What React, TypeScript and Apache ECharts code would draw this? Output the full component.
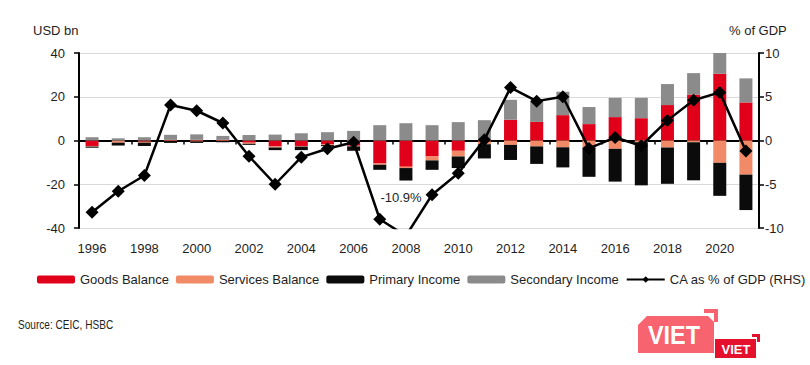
import React, { useEffect, useRef } from "react";
import * as echarts from "echarts";

const years = ["1996","1997","1998","1999","2000","2001","2002","2003","2004","2005","2006","2007","2008","2009","2010","2011","2012","2013","2014","2015","2016","2017","2018","2019","2020","2021"];
const goodsBalance = [-2.5, 0, -0.5, 0.3, 0.3, 0.3, -1, -2.7, -2.5, -1.8, -2.4, -10.5, -12, -7.3, -4.7, -0.5, 9.5, 8.5, 11.6, 7.5, 10.7, 10.2, 16.2, 21.0, 30.5, 17.4];
const servicesBalance = [-0.3, -1, -0.5, -0.3, -0.5, -0.3, -0.5, -0.5, -0.3, -0.3, -0.3, -0.6, -0.6, -1.8, -2.6, -1.2, -2, -2.7, -3.1, -3.2, -3.8, -0.8, -3.2, -0.8, -10.2, -15.6];
const primaryIncome = [-0.5, -1.3, -1.5, -0.8, -0.6, -0.5, -0.5, -1.2, -1.6, -0.5, -2, -2.3, -5.7, -4.3, -5.3, -6.5, -6.9, -8, -9.2, -13.4, -15, -19.7, -16.6, -17.4, -15.1, -16.2];
const secondaryIncome = [1.5, 1, 1.5, 2.3, 2.5, 1.8, 2.5, 2.7, 3.3, 3.8, 4.4, 7.0, 7.9, 7.0, 8.4, 9.3, 9.1, 9.2, 10.7, 7.8, 8.8, 9.3, 9.6, 9.8, 9.8, 11.0];
const caPctGdp = [-8.2, -5.8, -4.0, 4.05, 3.4, 2.0, -1.8, -5.0, -1.9, -0.95, -0.2, -9.0, -10.9, -6.2, -3.75, 0.1, 6.05, 4.5, 5.0, -0.9, 0.35, -0.6, 2.3, 4.6, 5.5, -1.2];
const leftTicks = { min: -40, max: 40, interval: 20 };
const rightTicks = { min: -10, max: 10, interval: 5 };

const FONT = "'Liberation Sans', Arial, sans-serif";
const TXT = "#1e1e1e";

export default function App() {
  const ref = useRef<HTMLDivElement>(null);
  useEffect(() => {
    document.body.style.margin = "0";
    const chart = echarts.init(ref.current!, null, { renderer: "svg" });
    const barBase = { type: "bar", stack: "total", barWidth: 13, xAxisIndex: 0, yAxisIndex: 0 };
    chart.setOption({
      animation: false,
      textStyle: { fontFamily: FONT },
      grid: { left: 79, right: 51, top: 53, bottom: 137 },
      legend: {
        left: 37,
        top: 273,
        padding: 0,
        itemWidth: 38,
        itemHeight: 8,
        itemGap: 7,
        textStyle: { fontSize: 13, color: TXT, fontFamily: FONT },
        data: ["Goods Balance", "Services Balance", "Primary Income", "Secondary Income", "CA as % of GDP (RHS)"],
      },
      xAxis: [
        {
          type: "category",
          data: years,
          position: "bottom",
          boundaryGap: true,
          axisLine: { show: false, onZero: false },
          axisTick: { show: false },
          axisLabel: { interval: 1, margin: 14, fontSize: 13, color: TXT },
        },
        {
          type: "category",
          data: years,
          position: "bottom",
          boundaryGap: true,
          axisLine: { show: true, onZero: true, onZeroAxisIndex: 0, lineStyle: { color: "#000", width: 2 } },
          axisTick: { show: true, interval: 1, length: 4, lineStyle: { color: "#000", width: 1.5 } },
          axisLabel: { show: false },
        },
      ],
      yAxis: [
        {
          type: "value",
          position: "left",
          ...leftTicks,
          axisLine: { show: true, lineStyle: { color: "#000", width: 2 } },
          axisTick: { show: true, length: 5, lineStyle: { color: "#000", width: 1.5 } },
          axisLabel: { fontSize: 13, color: TXT, margin: 14 },
          splitLine: { show: true, lineStyle: { color: "#d9d9d9", width: 1 } },
        },
        {
          type: "value",
          position: "right",
          ...rightTicks,
          axisLine: { show: true, lineStyle: { color: "#000", width: 2 } },
          axisTick: { show: true, length: 5, lineStyle: { color: "#000", width: 1.5 } },
          axisLabel: { fontSize: 13, color: TXT, margin: 6 },
          splitLine: { show: false },
        },
      ],
      series: [
        { ...barBase, name: "Goods Balance", data: goodsBalance, itemStyle: { color: "#e1001a" } },
        { ...barBase, name: "Services Balance", data: servicesBalance, itemStyle: { color: "#f18a67" } },
        { ...barBase, name: "Primary Income", data: primaryIncome, itemStyle: { color: "#0b0b0b" } },
        { ...barBase, name: "Secondary Income", data: secondaryIncome, itemStyle: { color: "#8b8b8b" } },
        {
          type: "line",
          name: "CA as % of GDP (RHS)",
          data: caPctGdp,
          xAxisIndex: 0,
          yAxisIndex: 1,
          symbol: "diamond",
          symbolSize: 13,
          clip: true,
          z: 5,
          lineStyle: { color: "#000", width: 2.5 },
          itemStyle: { color: "#000" },
        },
      ],
      graphic: [
        { type: "text", left: 33, top: 24, style: { text: "USD bn", fontSize: 13, fill: TXT, fontFamily: FONT } },
        { type: "text", left: 729, top: 24, style: { text: "% of GDP", fontSize: 13, fill: TXT, fontFamily: FONT } },
        { type: "text", x: 401, y: 197, style: { text: "-10.9%", fontSize: 13, fill: TXT, fontFamily: FONT, align: "center", verticalAlign: "middle" } },
        { type: "text", x: 18, y: 325, scaleX: 0.84, style: { text: "Source: CEIC, HSBC", fontSize: 12, fill: TXT, fontFamily: FONT, verticalAlign: "middle" } },
        { type: "polygon", shape: { points: [[647, 316], [708, 316], [714, 322], [714, 353], [638, 353], [638, 325]] }, style: { fill: "#f7636f" } },
        { type: "polygon", shape: { points: [[704, 309], [718, 309], [718, 322], [714, 322], [714, 313], [704, 313]] }, style: { fill: "#f7636f" } },
        { type: "text", x: 674, y: 335, scaleX: 0.9, style: { text: "VIET", fontSize: 26, fontWeight: "bold", fill: "#fff", fontFamily: FONT, align: "center", verticalAlign: "middle" } },
        { type: "polygon", shape: { points: [[715, 339], [756, 339], [756, 358], [715, 358]] }, style: { fill: "#e5102c" } },
        { type: "polygon", shape: { points: [[752, 334], [760, 334], [760, 342], [757, 342], [757, 337], [752, 337]] }, style: { fill: "#e5102c" } },
        { type: "text", x: 736, y: 349, style: { text: "VIET", fontSize: 13, fontWeight: "bold", fill: "#fff", fontFamily: FONT, align: "center", verticalAlign: "middle" } },
      ],
    });
    return () => chart.dispose();
  }, []);
  return <div ref={ref} style={{ width: 810, height: 365 }} />;
}
